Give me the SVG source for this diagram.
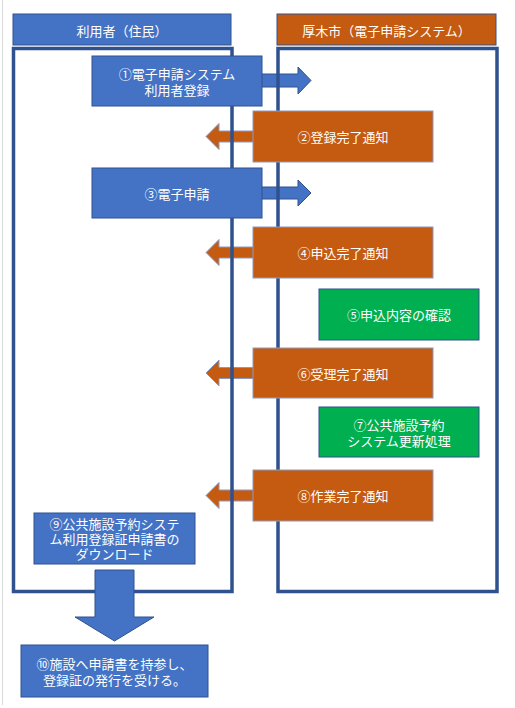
<svg xmlns="http://www.w3.org/2000/svg" width="515" height="708" viewBox="0 0 515 708">
<style>
.b{fill:#4472C4;stroke:#2F528F;stroke-width:1}
.o{fill:#C55A11;stroke:#8C9AC0;stroke-width:1}
.g{fill:#00B050;stroke:#2F528F;stroke-width:1}
.lane{fill:none;stroke:#2F528F;stroke-width:3.5}
text{font-family:"Noto Sans CJK JP","Noto Sans",sans-serif;font-size:13px;fill:#FFFFFF;text-anchor:middle;dominant-baseline:central}
</style>
<rect width="515" height="708" fill="#FFFFFF"/>
<line x1="2.5" y1="0" x2="2.5" y2="705" stroke="#D9D9D9" stroke-width="1"/>
<g id="connectors">
<path class="b" d="M240,74 H298 V67 L311,80.5 L298,94 V87 H240 Z"/>
<path class="o" d="M270,131 H219 V123.5 L206,136.5 L219,149.5 V142 H270 Z"/>
<path class="b" d="M240,187 H298 V180 L311,193 L298,206 V199 H240 Z"/>
<path class="o" d="M270,247 H219 V239.5 L206,252.5 L219,265.5 V258 H270 Z"/>
<path class="o" d="M270,367.5 H219 V360 L206,373 L219,386 V378.5 H270 Z"/>
<path class="o" d="M270,490 H219 V482.5 L206,495.5 L219,508.5 V501 H270 Z"/>
</g>
<g id="lane-user">
<rect class="b" x="13" y="14" width="218" height="31"/>
<text x="122" y="30">利用者（住民）</text>
<rect class="lane" x="13.5" y="48.5" width="218.5" height="543"/>
</g>
<g id="lane-city">
<rect class="o" x="277" y="14" width="219" height="31" style="stroke:#2F528F"/>
<text x="386.5" y="30">厚木市（電子申請システム）</text>
<rect class="lane" x="278" y="48.5" width="219" height="543"/>
</g>
<g id="n1">
<rect class="b" x="92" y="56" width="170" height="50"/>
<text x="177" y="73">①電子申請システム</text>
<text x="177" y="89">利用者登録</text>
</g>
<g id="n2">
<rect class="o" x="253" y="111" width="180" height="51"/>
<text x="343" y="136.5">②登録完了通知</text>
</g>
<g id="n3">
<rect class="b" x="92" y="168" width="170" height="50"/>
<text x="177" y="193">③電子申請</text>
</g>
<g id="n4">
<rect class="o" x="253" y="227" width="180" height="51"/>
<text x="343" y="252.5">④申込完了通知</text>
</g>
<g id="n5">
<rect class="g" x="319" y="289" width="160" height="51"/>
<text x="399" y="314.5">⑤申込内容の確認</text>
</g>
<g id="n6">
<rect class="o" x="253" y="348" width="180" height="50"/>
<text x="343" y="373">⑥受理完了通知</text>
</g>
<g id="n7">
<rect class="g" x="319" y="407" width="160" height="50"/>
<text x="399" y="424">⑦公共施設予約</text>
<text x="399" y="440">システム更新処理</text>
</g>
<g id="n8">
<rect class="o" x="253" y="470" width="180" height="51"/>
<text x="343" y="495.5">⑧作業完了通知</text>
</g>
<g id="n9">
<rect class="b" x="34" y="513" width="161" height="51"/>
<text x="114.5" y="523">⑨公共施設予約システ</text>
<text x="114.5" y="538">ム利用登録証申請書の</text>
<text x="114.5" y="553">ダウンロード</text>
</g>
<g id="arrow-down">
<path class="b" d="M95,570 H134 V617 H154 L114.5,641 L75,617 H95 Z"/>
</g>
<g id="n10">
<rect class="b" x="21" y="645" width="187" height="52"/>
<text x="114.5" y="663">⑩施設へ申請書を持参し、</text>
<text x="114.5" y="679">登録証の発行を受ける。</text>
</g>
</svg>
